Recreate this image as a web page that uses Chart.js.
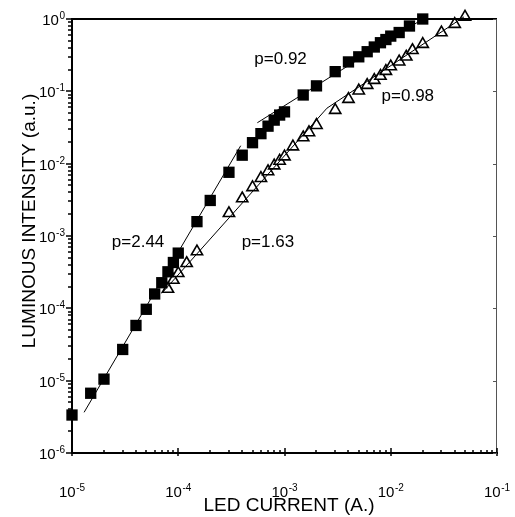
<!DOCTYPE html>
<html>
<head>
<meta charset="utf-8">
<script src="https://cdn.jsdelivr.net/npm/chart.js@4/dist/chart.umd.min.js"></script>
<style>
  html, body { margin: 0; padding: 0; background: #fff; }
  #wrap { width: 515px; height: 517px; }
</style>
</head>
<body>
<div id="wrap"><canvas id="c" width="515" height="517"></canvas></div>
<script>
// ---- data ----
const squareCurrent = [1e-5,1.5e-5,2e-5,3e-5,4e-5,5e-5,6e-5,7e-5,8e-5,9e-5,1e-4,1.5e-4,2e-4,3e-4,4e-4,5e-4,6e-4,7e-4,8e-4,9e-4,1e-3,1.5e-3,2e-3,3e-3,4e-3,5e-3,6e-3,7e-3,8e-3,9e-3,1e-2,1.2e-2,1.5e-2,2e-2];
const squareIntensity = [3.35e-6,6.7e-6,1.05e-5,2.7e-5,5.8e-5,9.7e-5,1.58e-4,2.26e-4,3.2e-4,4.3e-4,5.8e-4,1.58e-3,3.1e-3,7.6e-3,1.31e-2,1.95e-2,2.6e-2,3.3e-2,4.0e-2,4.7e-2,5.2e-2,8.9e-2,0.119,0.187,0.255,0.30,0.353,0.41,0.47,0.52,0.58,0.65,0.80,1.0];

const triangleCurrent = [8e-5,9e-5,1e-4,1.2e-4,1.5e-4,3e-4,4e-4,5e-4,6e-4,7e-4,8e-4,9e-4,1e-3,1.2e-3,1.5e-3,1.7e-3,2e-3,3e-3,4e-3,5e-3,6e-3,7e-3,8e-3,9e-3,1e-2,1.2e-2,1.4e-2,1.6e-2,2e-2,3e-2,4e-2,5e-2];
const triangleIntensity = [1.85e-4,2.46e-4,3.05e-4,4.2e-4,6.1e-4,2.06e-3,3.3e-3,4.7e-3,6.3e-3,7.8e-3,9.4e-3,1.09e-2,1.25e-2,1.72e-2,2.3e-2,2.7e-2,3.4e-2,5.5e-2,7.8e-2,0.102,0.122,0.143,0.163,0.19,0.22,0.257,0.30,0.37,0.45,0.65,0.85,1.07];

// fitted power-law lines (endpoints)
const fitLowSquaresX = [1.3e-5, 3.87e-4];
const fitLowSquaresY = [3.65e-6, 1.77e-2];
const fitHighSquaresX = [5.55e-4, 2e-2];
const fitHighSquaresY = [3.68e-2, 1.0];
const fitTrianglesX = [6.98e-5, 2.51e-3, 4.89e-2];
const fitTrianglesY = [1.61e-4, 5.85e-2, 1.07];

// annotation texts (left edge / baseline, in data units)
const slopeLabels = ['p=0.92', 'p=0.98', 'p=2.44', 'p=1.63'];
const slopeLabelX = [5.2e-4, 8.2e-3, 2.37e-5, 3.95e-4];
const slopeLabelY = [0.239, 0.0735, 7.04e-4, 7.04e-4];

// axis ticks
const xMajorTicks = [1e-5, 1e-4, 1e-3, 1e-2, 1e-1];
const xTickExponents = ['-5', '-4', '-3', '-2', '-1'];
const yMajorTicks = [1e-6, 1e-5, 1e-4, 1e-3, 1e-2, 1e-1, 1];
const yTickExponents = ['-6', '-5', '-4', '-3', '-2', '-1', '0'];
const xTitle = 'LED CURRENT (A.)';
const yTitle = 'LUMINOUS INTENSITY (a.u.)';

const FONT = '"Liberation Sans", Arial, Helvetica, sans-serif';

function pts(xs, ys) { return xs.map((x, i) => ({ x: x, y: ys[i] })); }
function withMinors(majors) {
  const out = [];
  for (let i = 0; i < majors.length; i++) {
    out.push({ value: majors[i], major: true });
    if (i < majors.length - 1) {
      for (let m = 2; m <= 9; m++) out.push({ value: majors[i] * m, major: false });
    }
  }
  return out;
}

const axesPlugin = {
  id: 'axesPlugin',
  afterDraw(chart) {
    const ctx = chart.ctx;
    const a = chart.chartArea;
    const xs = chart.scales.x, ys = chart.scales.y;
    ctx.save();
    ctx.lineCap = 'butt';
    // frame
    ctx.strokeStyle = '#000';
    ctx.lineWidth = 2;
    ctx.beginPath();
    ctx.moveTo(a.left, a.top); ctx.lineTo(a.right, a.top);
    ctx.moveTo(a.left, a.top - 1); ctx.lineTo(a.left, a.bottom + 1);
    ctx.moveTo(a.left - 1, a.bottom); ctx.lineTo(a.right + 1, a.bottom);
    ctx.stroke();
    ctx.strokeStyle = '#555';
    ctx.lineWidth = 1;
    ctx.beginPath();
    ctx.moveTo(a.right - 0.5, a.top); ctx.lineTo(a.right - 0.5, a.bottom);
    ctx.stroke();

    // x ticks
    ctx.strokeStyle = '#000';
    ctx.lineWidth = 1.5;
    ctx.beginPath();
    xs.ticks.forEach(t => {
      const px = Math.round(xs.getPixelForValue(t.value));
      if (t.major) { ctx.moveTo(px, a.bottom + 3); ctx.lineTo(px, a.bottom - 5); }
      else { ctx.moveTo(px, a.bottom); ctx.lineTo(px, a.bottom - 3); }
    });
    ctx.stroke();
    // y ticks (outward on the left)
    ctx.beginPath();
    ys.ticks.forEach(t => {
      const py = Math.round(ys.getPixelForValue(t.value));
      if (t.major) { ctx.moveTo(a.left, py); ctx.lineTo(a.left - 6, py); }
      else { ctx.moveTo(a.left, py); ctx.lineTo(a.left - 4, py); }
    });
    ctx.stroke();
    // right axis small major ticks
    ctx.strokeStyle = '#555';
    ctx.lineWidth = 1;
    ctx.beginPath();
    yMajorTicks.forEach(v => {
      const py = Math.round(ys.getPixelForValue(v)) + 0.5;
      ctx.moveTo(a.right, py); ctx.lineTo(a.right - 4, py);
    });
    ctx.stroke();

    // tick labels with superscripts
    ctx.fillStyle = '#000';
    ctx.textBaseline = 'alphabetic';
    const baseFont = '15px ' + FONT, supFont = '10px ' + FONT;
    function label(exp, cx, baseline, align) {
      ctx.font = baseFont; const w1 = ctx.measureText('10').width;
      ctx.font = supFont; const w2 = ctx.measureText(exp).width;
      const total = w1 + w2 + 0.5;
      let left = align === 'right' ? cx - total : cx - total / 2;
      ctx.textAlign = 'left';
      ctx.font = baseFont; ctx.fillText('10', left, baseline);
      ctx.font = supFont; ctx.fillText(exp, left + w1 + 0.5, baseline - 6);
    }
    xMajorTicks.forEach((v, i) => {
      label(xTickExponents[i], xs.getPixelForValue(v), a.bottom + 44, 'center');
    });
    yMajorTicks.forEach((v, i) => {
      label(yTickExponents[i], a.left - 7, ys.getPixelForValue(v) + 6, 'right');
    });

    // axis titles
    ctx.font = '19px ' + FONT;
    ctx.textAlign = 'center';
    ctx.fillText(xTitle, 289, 511);
    ctx.save();
    ctx.translate(35, 221);
    ctx.rotate(-Math.PI / 2);
    ctx.fillText(yTitle, 0, 0);
    ctx.restore();

    // slope labels
    ctx.font = '17px ' + FONT;
    ctx.textAlign = 'left';
    slopeLabels.forEach((s, i) => {
      ctx.fillText(s, xs.getPixelForValue(slopeLabelX[i]), ys.getPixelForValue(slopeLabelY[i]));
    });
    ctx.restore();
  }
};

const lineStyle = { showLine: true, borderColor: '#000', borderWidth: 1, pointRadius: 0, fill: false, clip: false, tension: 0 };

new Chart(document.getElementById('c'), {
  type: 'scatter',
  data: {
    datasets: [
      Object.assign({ label: 'fit p=2.44', data: pts(fitLowSquaresX, fitLowSquaresY) }, lineStyle),
      Object.assign({ label: 'fit p=0.92', data: pts(fitHighSquaresX, fitHighSquaresY) }, lineStyle),
      Object.assign({ label: 'fit p=1.63 / 0.98', data: pts(fitTrianglesX, fitTrianglesY) }, lineStyle),
      {
        label: 'squares', data: pts(squareCurrent, squareIntensity),
        pointStyle: 'rect', pointRadius: 8, backgroundColor: '#000', borderColor: '#000', borderWidth: 0, clip: false
      },
      {
        label: 'triangles', data: pts(triangleCurrent, triangleIntensity),
        pointStyle: 'triangle', pointRadius: 6.5, backgroundColor: '#fff', borderColor: '#000', borderWidth: 1.6, clip: false
      }
    ]
  },
  options: {
    responsive: false,
    animation: false,
    layout: { padding: { top: 19, right: 18, left: 0, bottom: 0 } },
    plugins: { legend: { display: false }, tooltip: { enabled: false }, title: { display: false } },
    scales: {
      x: {
        type: 'logarithmic', min: 1e-5, max: 1e-1,
        grid: { display: false }, border: { display: false },
        ticks: { display: false },
        afterBuildTicks: s => { s.ticks = withMinors(xMajorTicks); },
        afterFit: s => { s.height = 64; }
      },
      y: {
        type: 'logarithmic', min: 1e-6, max: 1,
        grid: { display: false }, border: { display: false },
        ticks: { display: false },
        afterBuildTicks: s => { s.ticks = withMinors(yMajorTicks); },
        afterFit: s => { s.width = 72; }
      }
    }
  },
  plugins: [axesPlugin]
});
</script>
</body>
</html>
